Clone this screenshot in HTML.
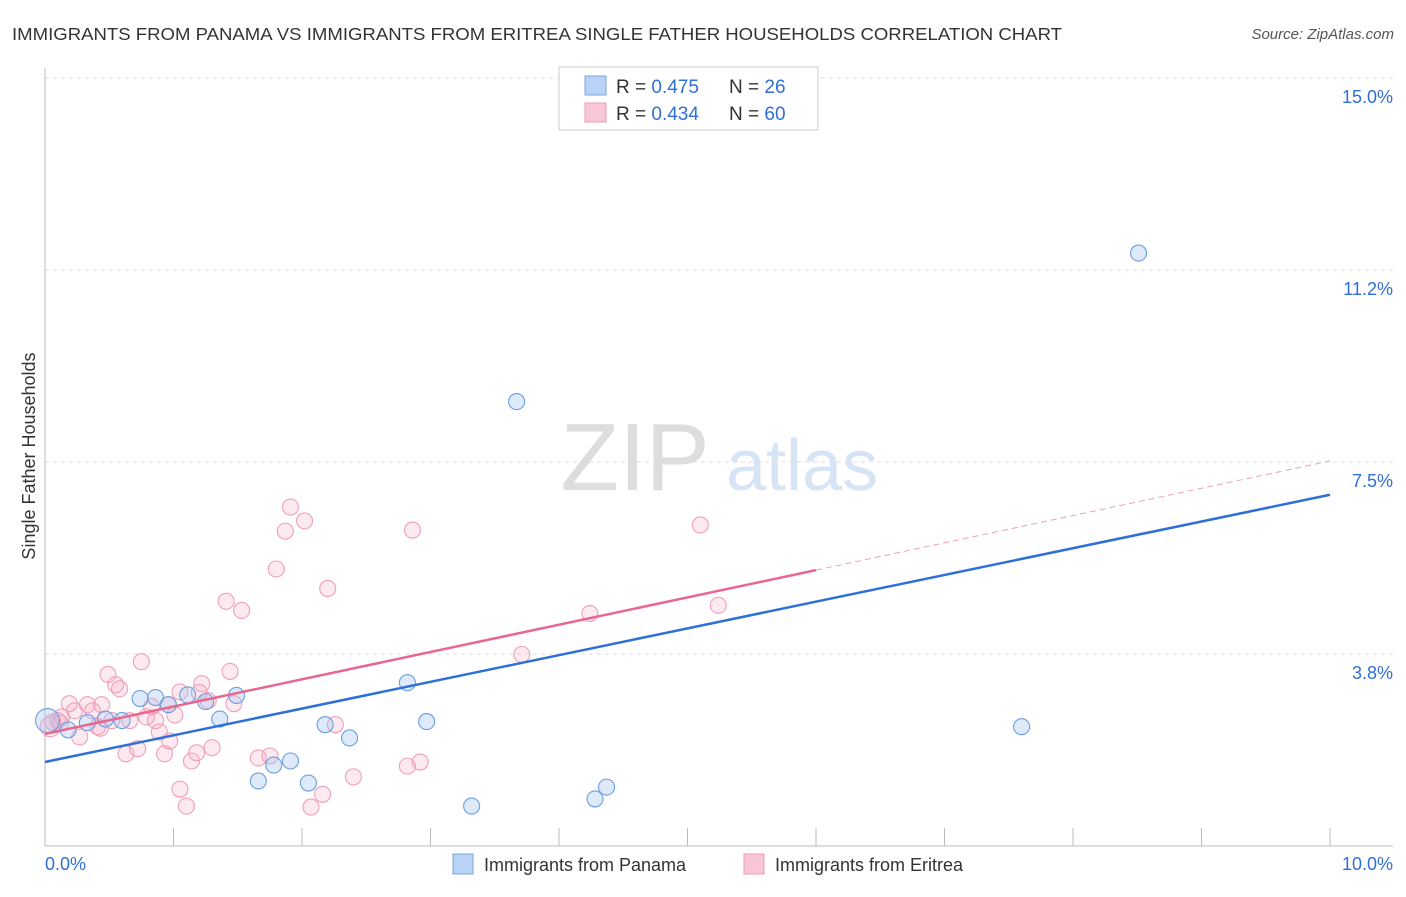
<!DOCTYPE html>
<html><head><meta charset="utf-8"><style>
body{margin:0;background:#fff;font-family:"Liberation Sans",sans-serif;}
svg text{font-family:"Liberation Sans",sans-serif;}
</style></head><body>
<svg id="c" width="1406" height="892" xmlns="http://www.w3.org/2000/svg">
<text x="12" y="40" font-size="17.5" fill="#333" textLength="1050" lengthAdjust="spacingAndGlyphs">IMMIGRANTS FROM PANAMA VS IMMIGRANTS FROM ERITREA SINGLE FATHER HOUSEHOLDS CORRELATION CHART</text>
<text x="1394" y="39" font-size="15" fill="#555" text-anchor="end" font-style="italic">Source: ZipAtlas.com</text>
<text x="35" y="456" font-size="18" fill="#333" text-anchor="middle" transform="rotate(-90 35 456)">Single Father Households</text>
<g id="grid"></g>
<g id="wm"><text x="635" y="490" font-size="96" fill="#ddd" font-family="Liberation Serif" text-anchor="middle">ZIP</text><text x="802" y="490" font-size="72" fill="#d6e4f5" text-anchor="middle">atlas</text></g>
<g id="axes"></g>
<g id="pts"></g>
<g id="trend"></g>
<g>
<rect x="559" y="67" width="259" height="63" fill="#fff" stroke="#ccc"/>
<rect x="585" y="76" width="21" height="19" fill="#b8d3f5" stroke="#7aa6e0"/>
<rect x="585" y="103" width="21" height="19" fill="#f9c6d6" stroke="#ef9ab6"/>
<text x="616" y="93" font-size="19" fill="#333">R = <tspan fill="#2f6fd6">0.475</tspan></text>
<text x="729" y="93" font-size="19" fill="#333">N = <tspan fill="#2f6fd6"> 26</tspan></text>
<text x="616" y="120" font-size="19" fill="#333">R = <tspan fill="#2f6fd6">0.434</tspan></text>
<text x="729" y="120" font-size="19" fill="#333">N = <tspan fill="#2f6fd6">60</tspan></text>
</g>
<g>
<rect x="453" y="854" width="20" height="20" fill="#b8d3f5" stroke="#7aa6e0"/>
<text x="484" y="871" font-size="18" fill="#333">Immigrants from Panama</text>
<rect x="744" y="854" width="20" height="20" fill="#f9c6d6" stroke="#ef9ab6"/>
<text x="775" y="871" font-size="18" fill="#333">Immigrants from Eritrea</text>
</g>
</svg>
<script>
const yTicks=[3.75,7.5,11.25,15];
const yTickLabels=["3.8%","7.5%","11.2%","15.0%"];
const xTicks=[0,1,2,3,4,5,6,7,8,9,10];
const panamaX=[0.02,0.18,0.33,0.47,0.60,0.74,0.86,0.96,1.11,1.25,1.36,1.49,1.66,1.78,1.91,2.05,2.18,2.37,2.82,2.97,3.32,3.67,4.28,4.37,7.60,8.51];
const panamaY=[2.45,2.27,2.41,2.48,2.45,2.88,2.90,2.76,2.95,2.82,2.48,2.94,1.27,1.58,1.66,1.23,2.37,2.11,3.19,2.43,0.78,8.68,0.92,1.15,2.33,11.58];
const eritreaX=[0.04,0.10,0.13,0.19,0.23,0.27,0.33,0.37,0.41,0.44,0.49,0.52,0.55,0.58,0.63,0.66,0.72,0.75,0.79,0.83,0.86,0.89,0.93,0.97,1.01,1.05,1.05,1.10,1.14,1.18,1.22,1.27,1.30,1.41,1.44,1.47,1.53,1.66,1.75,1.80,1.87,1.91,2.02,2.07,2.16,2.20,2.26,2.40,2.82,2.86,2.92,3.71,4.24,5.10,5.24,0.06,0.12,0.43,1.20,0.96];
const eritreaY=[2.33,2.45,2.52,2.78,2.64,2.13,2.76,2.64,2.33,2.76,3.35,2.45,3.15,3.07,1.80,2.45,1.90,3.60,2.52,2.72,2.45,2.23,1.80,2.05,2.56,3.01,1.11,0.78,1.66,1.82,3.17,2.84,1.92,4.78,3.41,2.78,4.60,1.72,1.76,5.41,6.15,6.62,6.35,0.76,1.01,5.03,2.37,1.35,1.56,6.17,1.64,3.74,4.54,6.27,4.70,2.42,2.40,2.30,3.00,2.76];
const panamaTrend=[1.64,6.86];
const eritreaTrend=[2.19,7.52];
const X=v=>45+v*128.5, Y=v=>846-v*51.2;
const NS="http://www.w3.org/2000/svg";
function mk(p,t,a){const e=document.createElementNS(NS,t);for(const k in a)e.setAttribute(k,a[k]);p.appendChild(e);return e;}
const grid=document.getElementById('grid'),axes=document.getElementById('axes'),pts=document.getElementById('pts'),tr=document.getElementById('trend');
yTicks.forEach((v,i)=>{
 const l=mk(grid,'line',{x1:45,x2:1393,y1:Y(v),y2:Y(v),stroke:'#ddd','stroke-dasharray':'4,4'});
 
 
 const t=mk(grid,'text',{x:1393,y:Y(v)+25,'font-size':18,fill:'#2f6fd6','text-anchor':'end'});t.textContent=yTickLabels[i];
 
 
});
mk(axes,'line',{x1:45,x2:45,y1:68,y2:846,stroke:'#bbb'});
mk(axes,'line',{x1:45,x2:1393,y1:846,y2:846,stroke:'#bbb'});
xTicks.forEach(v=>{const l=mk(axes,'line',{x1:X(v),x2:X(v),y1:828,y2:846,stroke:'#bbb'});
 
 });
let t0=mk(axes,'text',{x:45,y:870,'font-size':18,fill:'#2f6fd6'});t0.textContent='0.0%';


let t1=mk(axes,'text',{x:1393,y:870,'font-size':18,fill:'#2f6fd6','text-anchor':'end'});t1.textContent='10.0%';


eritreaX.forEach((x,i)=>{const c=mk(pts,'circle',{cx:X(x),cy:Y(eritreaY[i]),r:i==0?10:8,fill:'rgba(246,170,196,0.25)',stroke:'#ef9fb9','stroke-width':1.1});
 
 });
panamaX.forEach((x,i)=>{const c=mk(pts,'circle',{cx:X(x),cy:Y(panamaY[i]),r:i==0?12:8,fill:'rgba(160,196,240,0.35)',stroke:'#6b9ee0','stroke-width':1.1});
 
 });
let b=mk(tr,'line',{x1:X(0),y1:Y(panamaTrend[0]),x2:X(10),y2:Y(panamaTrend[1]),stroke:'#2e6fd8','stroke-width':2.5});


const pm=(eritreaTrend[1]-eritreaTrend[0])/10;
let p=mk(tr,'line',{x1:X(0),y1:Y(eritreaTrend[0]),x2:X(6),y2:Y(eritreaTrend[0]+pm*6),stroke:'#e8668f','stroke-width':2.5});


let pd=mk(tr,'line',{x1:X(6),y1:Y(eritreaTrend[0]+pm*6),x2:X(10),y2:Y(eritreaTrend[1]),stroke:'#eea0b8','stroke-width':1,'stroke-dasharray':'6,4'});


</script>
</body></html>
